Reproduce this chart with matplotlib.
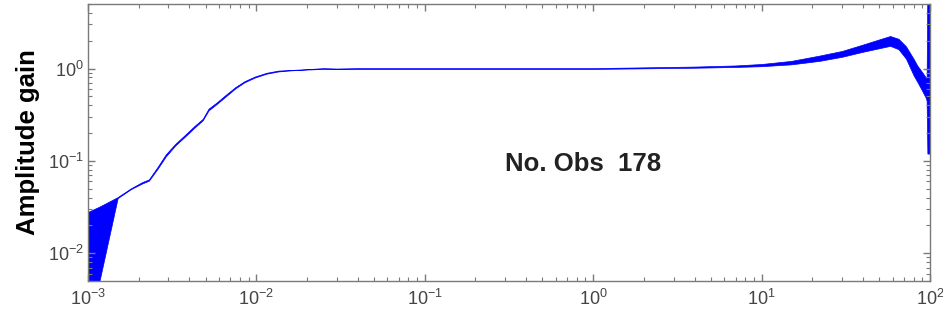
import matplotlib
matplotlib.use("Agg")
import matplotlib.pyplot as plt
import numpy as np
from matplotlib.ticker import LogLocator, NullFormatter, FuncFormatter

plt.rcParams["font.family"] = ["Liberation Sans", "DejaVu Sans"]
plt.rcParams["mathtext.fontset"] = "custom"
plt.rcParams["mathtext.rm"] = "Liberation Sans"
plt.rcParams["mathtext.it"] = "Liberation Sans"

# Frequency grid and lower/upper envelope of the amplitude gain
freq = [0.001, 0.00117, 0.0015, 0.0018, 0.0021, 0.0023, 0.0026, 0.0029, 0.0033,
        0.0038, 0.0043, 0.0048, 0.0052, 0.0058, 0.0065, 0.0075, 0.0085, 0.0098,
        0.0115, 0.0135, 0.016, 0.02, 0.025, 0.03, 0.04, 0.06, 0.1, 0.3, 1.0,
        2.0, 4.0, 7.0, 10.0, 15.0, 22.0, 30.0, 40.0, 50.0, 58.0, 65.0, 72.0,
        80.0, 84.0, 90.0, 94.0, 95.5, 96.5, 100.0]
gain_lo = [0.003, 0.005, 0.0395, 0.0495, 0.057, 0.061, 0.083, 0.112, 0.147,
           0.186, 0.230, 0.275, 0.352, 0.412, 0.49, 0.61, 0.71, 0.80,
           0.88, 0.93, 0.955, 0.975, 0.99, 0.985, 0.99, 0.99, 0.99, 0.99, 0.99,
           1.005, 1.02, 1.04, 1.06, 1.11, 1.21, 1.34, 1.52, 1.66, 1.76, 1.62, 1.28,
           0.84, 0.72, 0.57, 0.49, 0.45, 0.12, 0.12]
gain_hi = [0.028, 0.032, 0.0405, 0.0505, 0.059, 0.063, 0.087, 0.118, 0.153,
           0.194, 0.240, 0.285, 0.368, 0.428, 0.51, 0.63, 0.73, 0.82,
           0.90, 0.95, 0.965, 0.985, 1.01, 1.00, 1.01, 1.01, 1.01, 1.01, 1.01,
           1.03, 1.05, 1.08, 1.12, 1.21, 1.38, 1.55, 1.82, 2.07, 2.25, 2.10, 1.74,
           1.27, 1.08, 0.91, 0.81, 0.78, 8.0, 8.0]

n_obs = 178

fig = plt.figure(figsize=(9.43, 3.22), dpi=100)
ax = fig.add_axes([0.0933, 0.1273, 0.8929, 0.8603])

ax.fill_between(freq, gain_lo, gain_hi, color=(0, 0, 1), linewidth=0.5,
                edgecolor=(0, 0, 1))

ax.set_xscale("log")
ax.set_yscale("log")
ax.set_xlim(1e-3, 1e2)
ax.set_ylim(0.005, 5)

def pow10(v, pos):
    return r"$\mathregular{10^{%d}}$" % int(round(np.log10(v)))

for axis in (ax.xaxis, ax.yaxis):
    axis.set_major_locator(LogLocator(base=10, numticks=10))
    axis.set_minor_locator(LogLocator(base=10, subs=range(2, 10), numticks=20))
    axis.set_major_formatter(FuncFormatter(pow10))
    axis.set_minor_formatter(NullFormatter())

grey = "#7a7a7a"
for s in ax.spines.values():
    s.set_color(grey)
    s.set_linewidth(1.0)
ax.tick_params(which="both", direction="in", top=True, right=True,
               colors=grey, labelcolor="#444444", labelsize=13)
ax.tick_params(which="major", length=5, width=1.0)
ax.tick_params(axis="x", which="major", pad=6)
ax.tick_params(axis="y", which="major", pad=3)
ax.tick_params(which="minor", length=3, width=0.8)

ax.set_ylabel("Amplitude gain", fontsize=18.5, fontweight="bold", labelpad=6)
ax.text(0.3, 0.093, "No. Obs  %d" % n_obs, fontsize=18.5, fontweight="bold",
        color="#222222", va="center", ha="left")

fig.savefig("out.png", dpi=100, facecolor="white")
